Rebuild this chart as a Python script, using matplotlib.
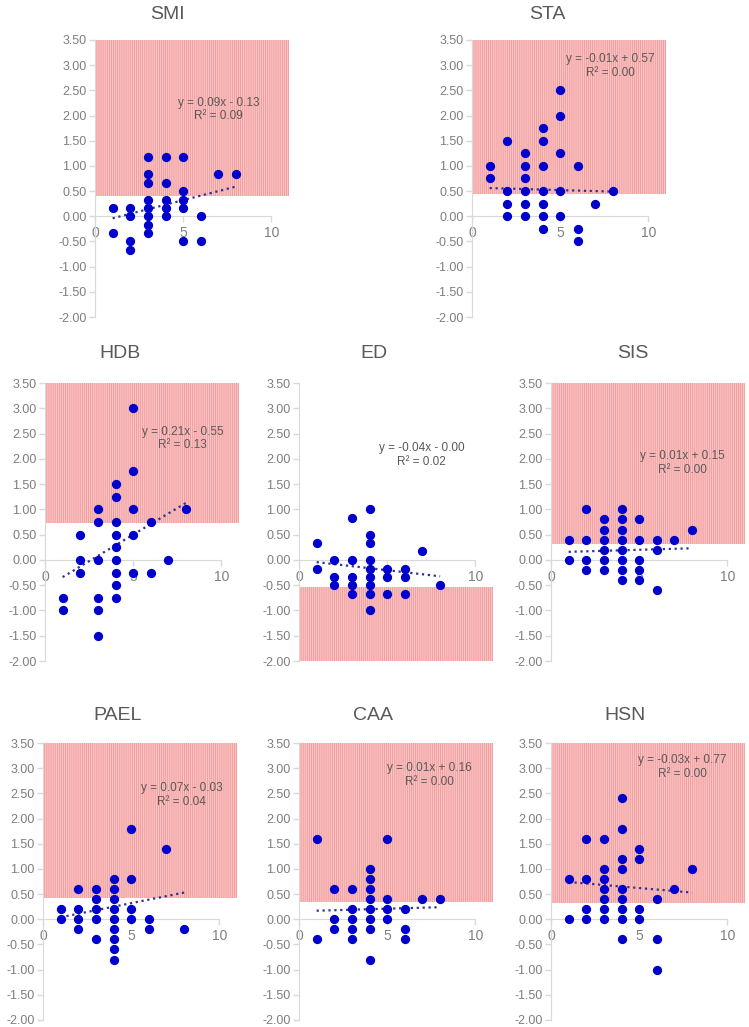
import matplotlib
matplotlib.use('Agg')
import matplotlib.pyplot as plt
from matplotlib.ticker import FormatStrFormatter, MultipleLocator

plt.rcParams['font.family'] = ['Liberation Sans', 'DejaVu Sans']
plt.rcParams['hatch.linewidth'] = 0.5

# data (x = integer score, y = change)
names = ['SMI', 'STA', 'HDB', 'ED', 'SIS', 'PAEL', 'CAA', 'HSN']

smi_x = [1, 1, 2, 2, 2, 2, 3, 3, 3, 3, 3, 3, 3, 3, 4, 4, 4, 4, 4, 5, 5, 5, 5, 5, 6, 6, 7, 8]
smi_y = [0.17, -0.33, 0.17, 0, -0.5, -0.67, 1.17, 0.83, 0.67, 0.33, 0.17, 0, -0.17, -0.33,
         1.17, 0.67, 0.33, 0.17, 0, 1.17, 0.5, 0.33, 0.17, -0.5, 0, -0.5, 0.83, 0.83]

sta_x = [1, 1, 2, 2, 2, 2, 3, 3, 3, 3, 3, 3, 4, 4, 4, 4, 4, 4, 4, 5, 5, 5, 5, 5, 6, 6, 6, 7, 8]
sta_y = [1.0, 0.75, 1.5, 0.5, 0.25, 0, 1.25, 1.0, 0.75, 0.5, 0.25, 0,
         1.75, 1.5, 1.0, 0.5, 0.25, 0, -0.25, 2.5, 2.0, 1.25, 0.5, 0, 1.0, -0.25, -0.5, 0.25, 0.5]

hdb_x = [1, 1, 2, 2, 2, 3, 3, 3, 3, 3, 3, 4, 4, 4, 4, 4, 4, 4, 4, 4, 5, 5, 5, 5, 5, 6, 6, 7, 8]
hdb_y = [-0.75, -1.0, 0.5, 0, -0.25, 1.0, 0.75, 0, -0.75, -1.0, -1.5,
         1.5, 1.25, 0.75, 0.5, 0.25, 0, -0.25, -0.5, -0.75, 3.0, 1.75, 1.0, 0.5, -0.25,
         0.75, -0.25, 0, 1.0]

ed_x = [1, 1, 2, 2, 2, 3, 3, 3, 3, 3, 4, 4, 4, 4, 4, 4, 4, 4, 4, 5, 5, 5, 6, 6, 6, 7, 8]
ed_y = [0.33, -0.17, 0, -0.33, -0.5, 0.83, 0, -0.33, -0.5, -0.67,
        1.0, 0.5, 0.33, 0, -0.17, -0.33, -0.5, -0.67, -1.0, -0.17, -0.33, -0.67,
        -0.17, -0.33, -0.67, 0.17, -0.5]

sis_x = [1, 1, 2, 2, 2, 2, 3, 3, 3, 3, 3, 3, 4, 4, 4, 4, 4, 4, 4, 4, 5, 5, 5, 5, 5, 6, 6, 6, 7, 8]
sis_y = [0.4, 0, 1.0, 0.4, 0, -0.2, 0.8, 0.6, 0.4, 0.2, 0, -0.2,
         1.0, 0.8, 0.6, 0.4, 0.2, 0, -0.2, -0.4, 0.8, 0.4, 0, -0.2, -0.4, 0.4, 0.2, -0.6, 0.4, 0.6]

pael_x = [1, 1, 2, 2, 2, 2, 3, 3, 3, 3, 3, 4, 4, 4, 4, 4, 4, 4, 4, 4, 5, 5, 5, 5, 6, 6, 7, 8]
pael_y = [0.2, 0, 0.6, 0.2, 0, -0.2, 0.6, 0.4, 0.2, 0, -0.4,
          0.8, 0.6, 0.4, 0.2, 0, -0.2, -0.4, -0.6, -0.8, 1.8, 0.8, 0.2, 0, 0, -0.2, 1.4, -0.2]

caa_x = [1, 1, 2, 2, 2, 3, 3, 3, 3, 3, 4, 4, 4, 4, 4, 4, 4, 4, 5, 5, 5, 5, 6, 6, 6, 7, 8]
caa_y = [1.6, -0.4, 0.6, 0, -0.2, 0.6, 0.2, 0, -0.2, -0.4,
         1.0, 0.8, 0.6, 0.4, 0.2, 0, -0.2, -0.8, 1.6, 0.4, 0.2, 0, 0.2, -0.2, -0.4, 0.4, 0.4]

hsn_x = [1, 1, 2, 2, 2, 2, 3, 3, 3, 3, 3, 3, 3, 4, 4, 4, 4, 4, 4, 4, 4, 4, 5, 5, 5, 5, 6, 6, 6, 7, 8]
hsn_y = [0.8, 0, 1.6, 0.8, 0.2, 0, 1.6, 1.0, 0.8, 0.6, 0.4, 0.2, 0,
         2.4, 1.8, 1.2, 1.0, 0.6, 0.4, 0.2, 0, -0.4, 1.4, 1.2, 0.2, 0, 0.4, -0.4, -1.0, 0.6, 1.0]

xs = [smi_x, sta_x, hdb_x, ed_x, sis_x, pael_x, caa_x, hsn_x]
ys = [smi_y, sta_y, hdb_y, ed_y, sis_y, pael_y, caa_y, hsn_y]

# trendline coefficients shown on the chart
slopes = [0.09, -0.01, 0.21, -0.04, 0.01, 0.07, 0.01, -0.03]
intercepts = [-0.13, 0.57, -0.55, -0.004, 0.15, -0.03, 0.16, 0.77]
r2 = [0.09, 0.00, 0.13, 0.02, 0.00, 0.04, 0.00, 0.00]

# shaded bands (low, high)
bands = [(0.41, 3.5), (0.44, 3.5), (0.73, 3.5), (-2.0, -0.53),
         (0.31, 3.5), (0.42, 3.5), (0.34, 3.5), (0.32, 3.5)]

# layout in pixels: axis left, top, bottom ; title centre ; label position (data)
W, H = 749, 1027
boxes = [(95, 40, 317), (472, 40, 317),
         (45, 383, 661), (299, 383, 661), (551, 383, 661),
         (43, 743, 1020), (299, 743, 1020), (551, 743, 1020)]
titles_at = [(167, 14), (547, 14), (120, 354), (374, 354), (633, 354),
             (118, 716), (373, 716), (625, 716)]
eq_at = [(7.0, 2.12), (7.85, 2.99), (7.8, 2.40), (6.95, 2.07),
         (7.45, 1.91), (7.85, 2.46), (7.4, 2.86), (7.45, 3.02)]

fig = plt.figure(figsize=(W / 100, H / 100), dpi=100)
axis_grey = '#d9d9d9'
text_grey = '#595959'

for i in range(len(names)):
    left, top, bottom = boxes[i]
    ax = fig.add_axes([left / W, 1 - bottom / H, 194 / W, (bottom - top) / H])
    ax.set_xlim(0, 11)
    ax.set_ylim(-2, 3.5)

    lo, hi = bands[i]
    ax.axhspan(lo, hi, facecolor='#fac4c4', edgecolor='#f09090', hatch='||||||||',
               linewidth=0, zorder=0)

    ax.scatter(xs[i], ys[i], s=32, color='#0000cc', zorder=4, clip_on=False)

    x0, x1 = min(xs[i]), max(xs[i])
    ax.plot([x0, x1], [slopes[i] * x0 + intercepts[i], slopes[i] * x1 + intercepts[i]],
            linestyle=':', color='#2e3192', linewidth=1.6, zorder=3)

    sign = '+' if intercepts[i] >= 0 else '-'
    label = 'y = %.2fx %s %.2f\nR² = %.2f' % (slopes[i], sign, abs(intercepts[i]), r2[i])
    ax.text(eq_at[i][0], eq_at[i][1], label, ha='center', va='center',
            fontsize=8.5, color=text_grey, linespacing=1.2, zorder=5)

    for s in ['top', 'right']:
        ax.spines[s].set_visible(False)
    ax.spines['bottom'].set_position(('data', 0))
    ax.spines['bottom'].set_bounds(0, 10)
    ax.spines['left'].set_color(axis_grey)
    ax.spines['bottom'].set_color(axis_grey)

    ax.set_xticks([0, 5, 10])
    ax.yaxis.set_major_locator(MultipleLocator(0.5))
    ax.yaxis.set_major_formatter(FormatStrFormatter('%.2f'))
    ax.tick_params(axis='both', colors=axis_grey, labelcolor='#7f7f7f',
                   labelsize=9, length=4, width=1)
    ax.tick_params(axis='x', pad=3, labelsize=10)
    ax.tick_params(axis='y', pad=2)
    ax.patch.set_alpha(0)

    fig.text(titles_at[i][0] / W, 1 - titles_at[i][1] / H, names[i],
             ha='center', va='center', fontsize=14, color=text_grey)

fig.savefig('out.png', dpi=100)
